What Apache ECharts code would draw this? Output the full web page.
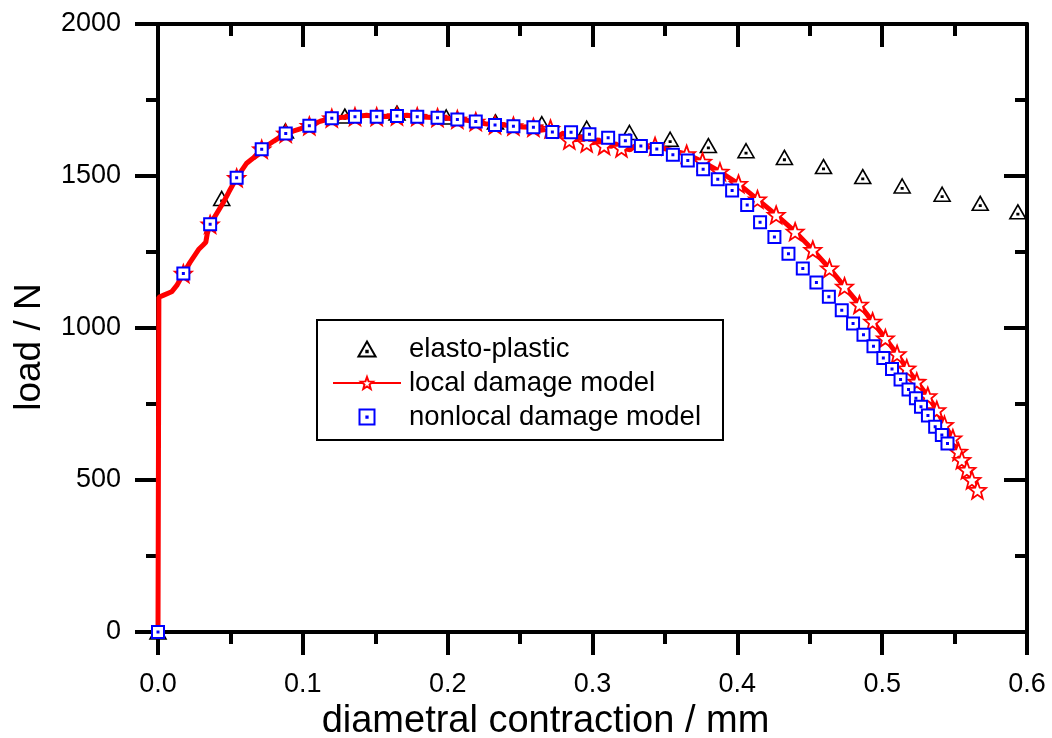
<!DOCTYPE html>
<html>
<head>
<meta charset="utf-8">
<script src="https://cdn.jsdelivr.net/npm/echarts@6/dist/echarts.min.js"></script>
<style>
  html, body { margin: 0; padding: 0; background: #ffffff; }
  #chart { width: 1052px; height: 738px; }
</style>
</head>
<body>
<div id="chart"></div>
<script>
// Load versus diametral contraction for three material models.

const seriesNames = ['elasto-plastic', 'local damage model', 'nonlocal damage model'];
const xAxisTitle = 'diametral contraction / mm';
const yAxisTitle = 'load / N';

// elasto-plastic [contraction mm, load N]
const elastoPlastic = [
  [0, 0], [0.044, 1426], [0.088, 1648], [0.129, 1697], [0.165, 1707],
  [0.199, 1694], [0.233, 1678], [0.265, 1672], [0.296, 1657], [0.3255, 1643],
  [0.3536, 1621], [0.380, 1600], [0.406, 1583], [0.4325, 1561], [0.4595, 1531],
  [0.4866, 1498], [0.5138, 1467], [0.5414, 1440], [0.5677, 1410], [0.5937, 1382]
];

// local damage model: points carrying a marker
const localMarked = [
  [0.0175, 1179], [0.036, 1341], [0.0543, 1494], [0.0716, 1588], [0.0882, 1640],
  [0.1045, 1665], [0.120, 1690], [0.136, 1695], [0.151, 1695], [0.165, 1697],
  [0.179, 1695], [0.193, 1692], [0.2067, 1686], [0.2194, 1679], [0.2327, 1668],
  [0.2454, 1664], [0.2592, 1660], [0.271, 1655], [0.284, 1618], [0.296, 1608],
  [0.308, 1600], [0.320, 1592], [0.3432, 1598], [0.365, 1572], [0.376, 1547],
  [0.388, 1514], [0.4008, 1474], [0.4139, 1423], [0.4268, 1372], [0.4399, 1317],
  [0.4521, 1257], [0.4636, 1196], [0.474, 1136], [0.4843, 1077], [0.4934, 1021],
  [0.5022, 966], [0.5103, 914], [0.517, 867], [0.5239, 823], [0.5315, 776],
  [0.5377, 730], [0.543, 681], [0.5488, 637], [0.5527, 593], [0.555, 566],
  [0.5585, 533], [0.562, 500], [0.5658, 467]
];

// local damage model: intermediate solver points on the curve (no marker)
const localPath = [
  [0, 0], [0.0006, 1101], [0.004, 1108], [0.0094, 1119], [0.013, 1140],
  [0.022, 1215], [0.028, 1258], [0.031, 1272], [0.033, 1282], [0.034, 1310],
  [0.045, 1412], [0.049, 1448], [0.061, 1541], [0.066, 1560], [0.080, 1615],
  [0.096, 1652], [0.112, 1680], [0.128, 1693], [0.144, 1700], [0.158, 1696],
  [0.172, 1700], [0.186, 1693], [0.200, 1690], [0.213, 1683], [0.226, 1672],
  [0.239, 1668], [0.252, 1661], [0.264, 1650], [0.277, 1632], [0.280, 1642],
  [0.289, 1620], [0.292, 1630], [0.301, 1610], [0.304, 1620], [0.313, 1598],
  [0.316, 1606], [0.326, 1586], [0.329, 1598], [0.335, 1594]
];

// nonlocal damage model
const nonlocalDamage = [
  [0, 0], [0.0175, 1179], [0.036, 1341], [0.0543, 1494], [0.0716, 1588],
  [0.0882, 1640], [0.1045, 1665], [0.120, 1690], [0.136, 1695], [0.151, 1695],
  [0.165, 1697], [0.179, 1695], [0.193, 1692], [0.2067, 1686], [0.2194, 1679],
  [0.2327, 1668], [0.2454, 1664], [0.2592, 1660], [0.2723, 1645], [0.2852, 1644],
  [0.2979, 1637], [0.3108, 1626], [0.3227, 1616], [0.3334, 1599], [0.3444, 1589],
  [0.3555, 1570], [0.3658, 1551], [0.3764, 1522], [0.3865, 1489], [0.3964, 1452],
  [0.4068, 1405], [0.4157, 1348], [0.4256, 1299], [0.4353, 1244], [0.4452, 1196],
  [0.4546, 1150], [0.4632, 1103], [0.4721, 1058], [0.4799, 1015], [0.4871, 978],
  [0.494, 940], [0.5008, 901], [0.5068, 865], [0.5127, 831], [0.5182, 798],
  [0.5233, 769], [0.5268, 741], [0.5316, 712], [0.5366, 675], [0.5412, 648],
  [0.5451, 620]
];

// axis ranges and tick steps
const xRange = [0, 0.6], xStep = 0.1;
const yRange = [0, 2000], yStep = 500;

// open markers with a small centre dot
const triangleSymbol = 'path://M12,0L24,21H0Z M11,13H13V15H11Z';
const squareSymbol = 'path://M0,0H24V24H0Z M11,11H13V13H11Z';
const starSymbol = 'path://M10,0L12.47,6.6L19.51,6.91L14,11.3L15.88,18.09L10,14.2L4.12,18.09L6,11.3L0.49,6.91L7.53,6.6Z';

// merge the marked points and the bare curve points into one ordered line
const localData = localMarked.map(p => ({ p, mark: true }))
  .concat(localPath.map(p => ({ p, mark: false })))
  .sort((a, b) => a.p[0] - b.p[0] || a.p[1] - b.p[1])
  .map(d => d.mark ? { value: d.p } : { value: d.p, symbol: 'none' });

const FONT = '"Liberation Sans", Arial, Helvetica, sans-serif';
const axisLineStyle = { color: '#000', width: 4 };

function baseAxis(extra) {
  return Object.assign({
    type: 'value',
    axisLine: { show: true, onZero: false, lineStyle: axisLineStyle },
    axisTick: { show: true, length: 23, lineStyle: { color: '#000', width: 4 } },
    minorTick: { show: true, splitNumber: 2, length: 12, lineStyle: { color: '#000', width: 4 } },
    splitLine: { show: false },
    minorSplitLine: { show: false }
  }, extra);
}

const chart = echarts.init(document.getElementById('chart'), null, { renderer: 'canvas' });

chart.setOption({
  backgroundColor: '#ffffff',
  animation: false,
  textStyle: { fontFamily: FONT },
  grid: {
    left: 158, right: 25, top: 24, bottom: 106,
    containLabel: false,
    outerBoundsMode: 'none'
  },
  legend: {
    orient: 'vertical',
    left: 317,
    top: 320,
    padding: [15, 22, 9, 15],
    itemGap: 6,
    itemWidth: 68,
    itemHeight: 15,
    borderColor: '#000',
    borderWidth: 2,
    backgroundColor: '#fff',
    textStyle: { fontSize: 27.5, color: '#000', fontFamily: FONT, padding: [0, 0, 0, 3] },
    data: seriesNames
  },
  xAxis: [
    baseAxis({
      position: 'bottom',
      min: xRange[0], max: xRange[1], interval: xStep,
      name: xAxisTitle,
      nameLocation: 'middle',
      nameGap: 67,
      nameTextStyle: { fontSize: 38, color: '#000', fontFamily: FONT, padding: [0, 94, 0, 0] },
      axisLabel: {
        show: true, margin: 39, fontSize: 27, color: '#000', fontFamily: FONT,
        formatter: v => v.toFixed(1)
      }
    }),
    baseAxis({
      position: 'top',
      min: xRange[0], max: xRange[1], interval: xStep,
      axisTick: { show: true, inside: true, length: 23, lineStyle: { color: '#000', width: 4 } },
      axisLabel: { show: false }
    })
  ],
  yAxis: [
    baseAxis({
      position: 'left',
      min: yRange[0], max: yRange[1], interval: yStep,
      name: yAxisTitle,
      nameLocation: 'middle',
      nameGap: 110,
      nameTextStyle: { fontSize: 37, color: '#000', fontFamily: FONT, padding: [0, 38, 0, 0] },
      axisLabel: {
        show: true, margin: 37, fontSize: 27, color: '#000', fontFamily: FONT,
        formatter: v => String(v)
      }
    }),
    baseAxis({
      position: 'right',
      min: yRange[0], max: yRange[1], interval: yStep,
      axisTick: { show: true, inside: true, length: 23, lineStyle: { color: '#000', width: 4 } },
      axisLabel: { show: false }
    })
  ],
  series: [
    {
      name: seriesNames[0],
      type: 'scatter',
      xAxisIndex: 0, yAxisIndex: 0,
      data: elastoPlastic,
      symbol: triangleSymbol,
      symbolSize: [16, 14],
      itemStyle: { color: '#ffffff', borderColor: '#000000', borderWidth: 1.6, opacity: 1 },
      z: 2
    },
    {
      name: seriesNames[1],
      type: 'line',
      xAxisIndex: 0, yAxisIndex: 0,
      data: localData,
      showSymbol: true,
      showAllSymbol: true,
      symbol: starSymbol,
      symbolSize: 17,
      lineStyle: { color: '#ff0000', width: 5 },
      itemStyle: { color: '#ffffff', borderColor: '#ff0000', borderWidth: 1.8, opacity: 1 },
      z: 3
    },
    {
      name: seriesNames[2],
      type: 'scatter',
      xAxisIndex: 0, yAxisIndex: 0,
      data: nonlocalDamage,
      symbol: squareSymbol,
      symbolSize: 12,
      itemStyle: { color: '#ffffff', borderColor: '#0000ff', borderWidth: 2, opacity: 1 },
      z: 4
    }
  ]
});
</script>
</body>
</html>
